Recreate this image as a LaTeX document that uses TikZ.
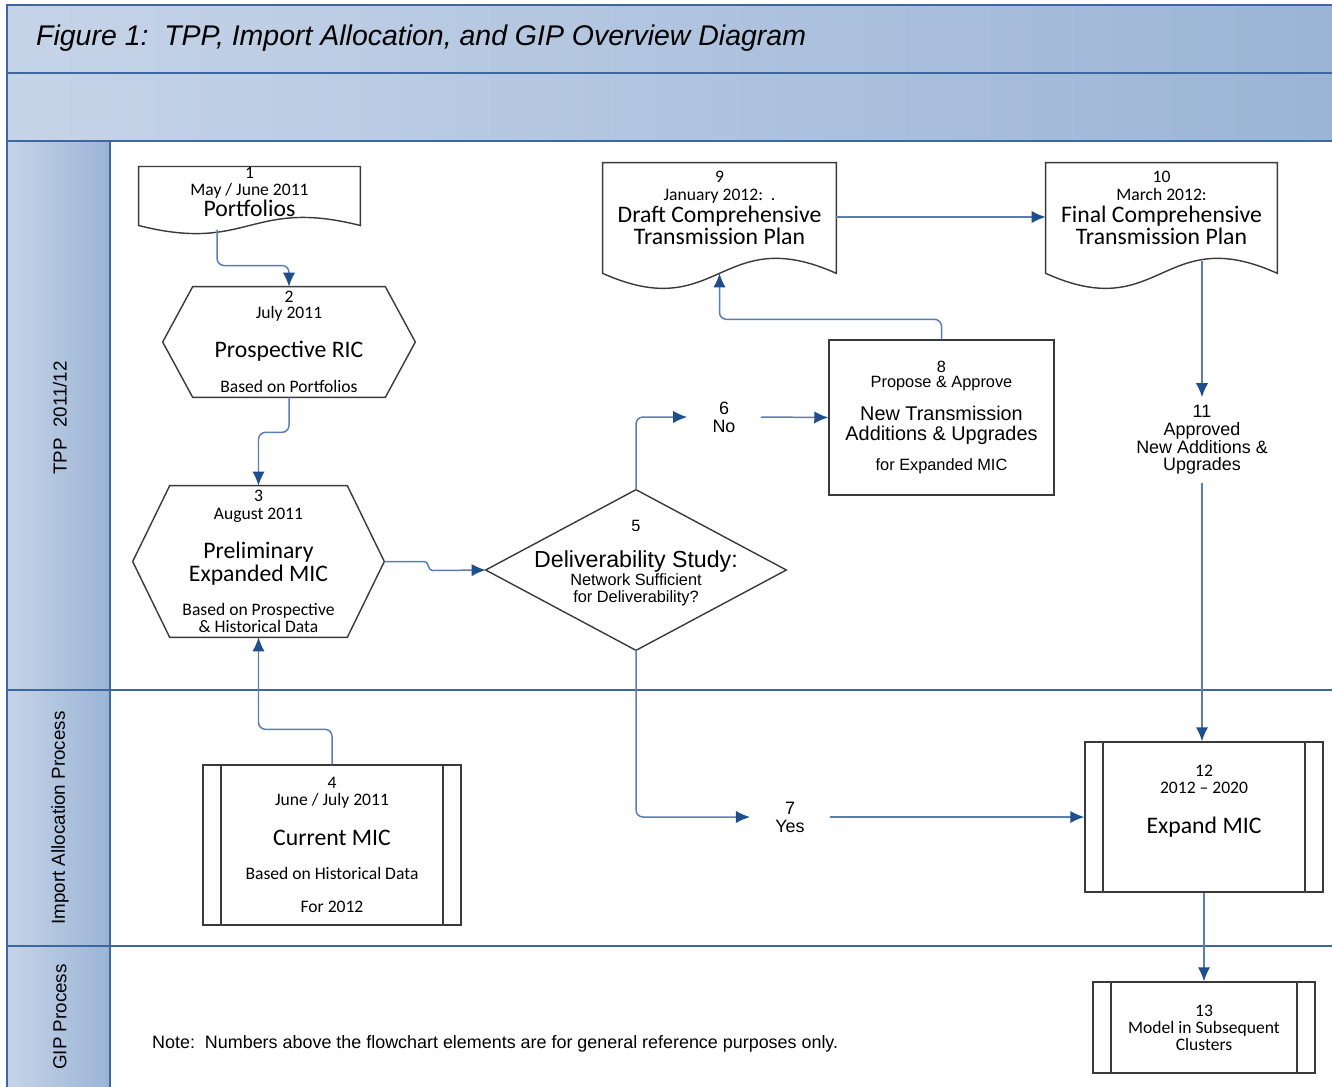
\documentclass[tikz,border=0pt]{standalone}
\usepackage{fontspec}
\setmainfont{Carlito}
\newfontfamily\arialf{Liberation Sans}
\usetikzlibrary{arrows.meta,calc}
\definecolor{lanelt}{HTML}{C6D4E8}
\definecolor{lanedk}{HTML}{9BB4D6}
\definecolor{laneln}{HTML}{3D679E}
\definecolor{flowln}{HTML}{5A7EB2}
\definecolor{flowtip}{HTML}{1F4E8C}
\definecolor{shapeln}{HTML}{3A3A3A}
\lineskiplimit=-100pt
% text sizes
\newcommand{\csm}{\fontsize{10}{9}\selectfont}
\newcommand{\cbig}{\fontsize{13.5}{12}\selectfont}
\newcommand{\asm}{\arialf\fontsize{9.3}{9}\selectfont}
\newcommand{\amid}{\arialf\fontsize{11.3}{9}\selectfont}
\newcommand{\abig}{\arialf\fontsize{13.2}{9}\selectfont}
\newcommand{\alab}{\arialf\fontsize{10.2}{9.6}\selectfont}
\begin{document}
\begin{tikzpicture}[x=0.02cm,y=-0.02cm,
    lane/.style={draw=laneln,line width=1.1pt,left color=lanelt,right color=lanedk},
    lanetitle/.style={rotate=90,font=\arialf\fontsize{10.7}{12}\selectfont},
    outline/.style={draw=shapeln,line width=0.8pt},
    box/.style={inner sep=0pt,align=center,font=\csm},
    proc/.style={box,outline,path picture={\draw[shapeln,line width=0.8pt]
        ([xshift=0.36cm]path picture bounding box.north west) -- ([xshift=0.36cm]path picture bounding box.south west)
        ([xshift=-0.36cm]path picture bounding box.north east) -- ([xshift=-0.36cm]path picture bounding box.south east);}},
    lbl/.style={align=center,font=\alab,inner xsep=0.5cm,inner ysep=0.16cm},
    flow/.style={draw=flowln,line width=0.85pt,rounded corners=4pt,-{Latex[length=8pt,width=7pt,color=flowtip]}}]
\useasboundingbox (0,0) rectangle (1332,1086);
\fill[white] (0,0) rectangle (1332,1086);

% swimlanes
\draw[lane] (7,5) rectangle (1345,73);
\draw[lane] (7,73) rectangle (1345,141);
\draw[lane] (7,141) rectangle (110,690);
\draw[lane] (7,690) rectangle (110,946);
\draw[lane] (7,946) rectangle (110,1100);
\draw[laneln,line width=1.1pt] (110,690) -- (1345,690) (110,946) -- (1345,946);
\node[anchor=west,font=\arialf\itshape\fontsize{16.2}{18}\selectfont] (title) at (30,38) {Figure 1:\ \ TPP, Import Allocation, and GIP Overview Diagram};
\node[lanetitle] (tpp) at (60,418) {TPP\ \ 2011/12};
\node[lanetitle] (imp) at (60,818) {Import Allocation Process};
\node[lanetitle] (gip) at (60,1017) {GIP Process};

% steps
\node[box,minimum width=4.42cm,minimum height=1cm] (p1) at (249.5,192) {1\\[0.6pt]May / June 2011\\[3.5pt]\cbig Portfolios};
\node[box,minimum width=5.04cm,minimum height=2.2cm] (h2) at (289,342) {2\\July 2011\\[13.5pt]\cbig Prospective RIC\\[11pt]Based on Portfolios};
\node[box,minimum width=5.02cm,minimum height=3.02cm] (h3) at (258.5,561.5) {3\\[1.2pt]August 2011\\[13.2pt]\cbig Preliminary\\[4pt]\cbig Expanded MIC\\[10.8pt]Based on Prospective\\[0.6pt]\& Historical Data};
\node[proc,minimum width=5.16cm,minimum height=3.2cm] (b4) at (332,845) {4\\[0.6pt]June / July 2011\\[13.7pt]\cbig Current MIC\\[10.8pt]Based on Historical Data\\[9.7pt]For 2012};
\node[box,font=\asm,minimum width=6cm,minimum height=3.2cm] (d5) at (636,570) {5\\[11.5pt]\abig Deliverability Study:\\[1.1pt]Network Sufficient\\[0.6pt]for Deliverability?\\[1pt]\mbox{}};
\node[lbl] (n6) at (724,417) {6\\[0.6pt]No};
\node[lbl] (n7) at (790,817) {7\\[0.6pt]Yes};
\node[box,outline,font=\asm,minimum width=4.5cm,minimum height=3.1cm] (b8) at (941.5,417.5) {8\\[-0.5pt]Propose \& Approve\\[10.1pt]\amid New Transmission\\[2.3pt]\amid Additions \& Upgrades\\[8.1pt]for Expanded MIC};
\node[box,minimum width=4.66cm,minimum height=1.8cm] (d9) at (719.5,208) {9\\[1.2pt]January 2012:\ \ .\\[3.5pt]\cbig Draft Comprehensive\\[4pt]\cbig Transmission Plan};
\node[box,minimum width=4.62cm,minimum height=1.8cm] (d10) at (1161.5,208) {10\\[1.2pt]March 2012:\\[3.5pt]\cbig Final Comprehensive\\[4pt]\cbig Transmission Plan};
\node[lbl] (n11) at (1202,440) {11\\[0.6pt]Approved\\[0.3pt]New Additions \&\\[0.3pt]Upgrades};
\node[proc,minimum width=4.76cm,minimum height=3cm] (b12) at (1204,817) {12\\[0.6pt]2012 -- 2020\\[13.7pt]\cbig Expand MIC\\[11.5pt]\mbox{}};
\node[proc,minimum width=4.44cm,minimum height=1.82cm] (b13) at (1204,1027.5) {13\\[0.6pt]Model in Subsequent\\[0.6pt]Clusters};
\node[anchor=west,font=\arialf\fontsize{10.2}{11}\selectfont] (note) at (146,1044) {Note:\ \ Numbers above the flowchart elements are for general reference purposes only.};

% outlines
\foreach \n/\d/\a/\w in {p1/8/28/110,d9/20/52/116,d10/20/52/115}
  \draw[outline] (\n.north west) -- (\n.north east) -- ($(\n.south east)+(0,\d)$)
    .. controls +(-\w,-\a) and +(\w,\a) .. ($(\n.south west)+(0,\d)$) -- cycle;
\foreach \n/\i in {h2/30,h3/37}
  \draw[outline] (\n.west) -- ($(\n.north west)+(\i,0)$) -- ($(\n.north east)+(-\i,0)$) -- (\n.east)
    -- ($(\n.south east)+(-\i,0)$) -- ($(\n.south west)+(\i,0)$) -- cycle;
\draw[outline] (d5.west) -- (d5.north) -- (d5.east) -- (d5.south) -- cycle;

% connectors
\draw[flow] ([xshift=-0.65cm]p1.south) ++(0,12) -- ++(0,36) -| (h2.north);
\draw[flow] (h2.south) -- ++(0,35) -| (h3.north);
\draw[flow] (b4.north) -- ++(0,-35) -| (h3.south);
\draw[flow,sharp corners] (h3.east) -- ++(40,0) to[out=0,in=180] ++(8,9) -- (d5.west);
\draw[flow] (d5.north) |- (n6.west);
\draw[flow] (n6.east) -- (b8.west);
\draw[flow] (d5.south) |- (n7.west);
\draw[flow] (n7.east) -- (b12.west);
\draw[flow] (b8.north) -- ++(0,-20) -| ($(d9.south)+(0,20)$);
\draw[flow] ([yshift=-0.18cm]d9.east) -- ([yshift=-0.18cm]d10.west);
\draw[flow] (d10.south -| n11.north) ++(0,8) -- (n11.north);
\draw[flow] (n11.south) -- (n11.south |- b12.north);
\draw[flow] (b12.south) -- (b13.north);
\end{tikzpicture}
\end{document}
